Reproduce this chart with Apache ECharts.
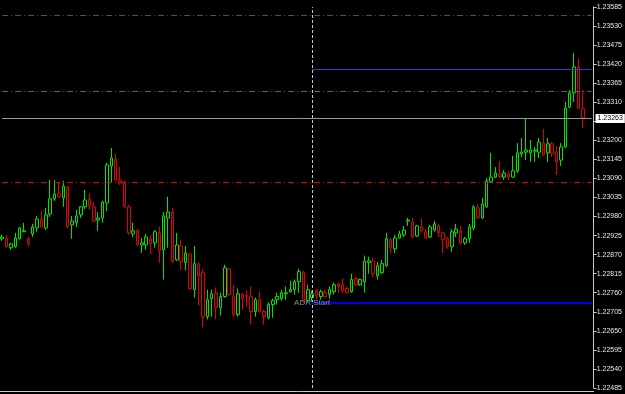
<!DOCTYPE html>
<html>
<head>
<meta charset="utf-8">
<script src="https://cdn.jsdelivr.net/npm/echarts@6/dist/echarts.min.js"></script>
<style>
html, body { margin: 0; padding: 0; background: #000; }
#chart { width: 625px; height: 394px; }
</style>
</head>
<body>
<div id="chart"></div>
<script>
// bars: [open, close, low, high]
var candles = [
  [1.22916, 1.22921, 1.22910, 1.22927], [1.22918, 1.22893, 1.22890, 1.22927], [1.22890, 1.22901, 1.22884, 1.22904],
  [1.22893, 1.22918, 1.22890, 1.22933], [1.22916, 1.22947, 1.22913, 1.22950], [1.22936, 1.22939, 1.22936, 1.22962],
  [1.22916, 1.22901, 1.22893, 1.22921], [1.22930, 1.22950, 1.22921, 1.22959], [1.22947, 1.22973, 1.22936, 1.22982],
  [1.22973, 1.22950, 1.22947, 1.22996], [1.22947, 1.22985, 1.22941, 1.23005], [1.22987, 1.23031, 1.22979, 1.23086],
  [1.23031, 1.23045, 1.23025, 1.23086], [1.23048, 1.23037, 1.23034, 1.23077], [1.23034, 1.23068, 1.23008, 1.23083],
  [1.23065, 1.22950, 1.22947, 1.23068], [1.22956, 1.22967, 1.22916, 1.22982], [1.22962, 1.22982, 1.22950, 1.22999],
  [1.22985, 1.23008, 1.22976, 1.23010], [1.23008, 1.23028, 1.23002, 1.23057], [1.23031, 1.23010, 1.22999, 1.23048],
  [1.23008, 1.22967, 1.22964, 1.23022], [1.22970, 1.22976, 1.22939, 1.22993], [1.22976, 1.23022, 1.22962, 1.23025],
  [1.23019, 1.23129, 1.22996, 1.23135], [1.23126, 1.23149, 1.23077, 1.23178], [1.23146, 1.23086, 1.23083, 1.23161],
  [1.23086, 1.23077, 1.23071, 1.23123], [1.23080, 1.23008, 1.23005, 1.23083], [1.23008, 1.22933, 1.22927, 1.23013],
  [1.22930, 1.22939, 1.22921, 1.22962], [1.22941, 1.22898, 1.22895, 1.22944], [1.22898, 1.22904, 1.22875, 1.22918],
  [1.22898, 1.22921, 1.22884, 1.22930], [1.22916, 1.22901, 1.22872, 1.22927], [1.22904, 1.22936, 1.22890, 1.22941],
  [1.22933, 1.22881, 1.22847, 1.22950], [1.22884, 1.22982, 1.22798, 1.22993], [1.22976, 1.22993, 1.22890, 1.23037],
  [1.22993, 1.22849, 1.22847, 1.23005], [1.22855, 1.22898, 1.22852, 1.22933], [1.22895, 1.22849, 1.22826, 1.22913],
  [1.22847, 1.22875, 1.22824, 1.22895], [1.22872, 1.22772, 1.22769, 1.22875], [1.22769, 1.22844, 1.22746, 1.22895],
  [1.22841, 1.22809, 1.22723, 1.22849], [1.22818, 1.22691, 1.22660, 1.22829], [1.22691, 1.22740, 1.22683, 1.22769],
  [1.22743, 1.22757, 1.22691, 1.22769], [1.22760, 1.22717, 1.22683, 1.22775], [1.22717, 1.22749, 1.22694, 1.22760],
  [1.22749, 1.22832, 1.22746, 1.22841], [1.22829, 1.22755, 1.22752, 1.22832], [1.22749, 1.22697, 1.22691, 1.22783],
  [1.22697, 1.22757, 1.22691, 1.22772], [1.22755, 1.22743, 1.22711, 1.22760], [1.22752, 1.22749, 1.22720, 1.22766],
  [1.22749, 1.22706, 1.22668, 1.22778], [1.22706, 1.22740, 1.22691, 1.22746], [1.22740, 1.22706, 1.22703, 1.22763],
  [1.22706, 1.22691, 1.22668, 1.22711], [1.22688, 1.22726, 1.22683, 1.22732], [1.22726, 1.22737, 1.22688, 1.22743],
  [1.22740, 1.22749, 1.22726, 1.22760], [1.22743, 1.22760, 1.22737, 1.22769], [1.22757, 1.22760, 1.22740, 1.22778],
  [1.22763, 1.22769, 1.22760, 1.22795], [1.22769, 1.22792, 1.22755, 1.22798], [1.22792, 1.22821, 1.22760, 1.22829],
  [1.22818, 1.22734, 1.22732, 1.22824], [1.22737, 1.22769, 1.22734, 1.22783], [1.22746, 1.22757, 1.22734, 1.22766],
  [1.22766, 1.22752, 1.22740, 1.22772], [1.22749, 1.22763, 1.22740, 1.22769], [1.22760, 1.22749, 1.22746, 1.22769],
  [1.22755, 1.22769, 1.22743, 1.22778], [1.22763, 1.22783, 1.22755, 1.22789], [1.22786, 1.22778, 1.22760, 1.22789],
  [1.22783, 1.22766, 1.22760, 1.22801], [1.22772, 1.22760, 1.22757, 1.22778], [1.22763, 1.22798, 1.22760, 1.22815],
  [1.22801, 1.22783, 1.22780, 1.22806], [1.22783, 1.22798, 1.22780, 1.22801], [1.22792, 1.22852, 1.22760, 1.22867],
  [1.22847, 1.22852, 1.22815, 1.22864], [1.22852, 1.22815, 1.22806, 1.22861], [1.22809, 1.22838, 1.22798, 1.22849],
  [1.22818, 1.22844, 1.22815, 1.22855], [1.22838, 1.22916, 1.22835, 1.22933], [1.22913, 1.22890, 1.22875, 1.22918],
  [1.22887, 1.22918, 1.22875, 1.22927], [1.22918, 1.22930, 1.22916, 1.22939], [1.22927, 1.22941, 1.22921, 1.22953],
  [1.22967, 1.22970, 1.22953, 1.22976], [1.22964, 1.22921, 1.22918, 1.22976], [1.22924, 1.22953, 1.22921, 1.22956],
  [1.22950, 1.22939, 1.22933, 1.22973], [1.22936, 1.22918, 1.22916, 1.22944], [1.22921, 1.22950, 1.22918, 1.22956],
  [1.22941, 1.22959, 1.22936, 1.22967], [1.22953, 1.22933, 1.22921, 1.22959], [1.22933, 1.22913, 1.22875, 1.22936],
  [1.22916, 1.22893, 1.22887, 1.22921], [1.22893, 1.22936, 1.22878, 1.22944], [1.22933, 1.22944, 1.22921, 1.22959],
  [1.22939, 1.22904, 1.22898, 1.22953], [1.22904, 1.22916, 1.22898, 1.22921], [1.22916, 1.22950, 1.22904, 1.22959],
  [1.22947, 1.23008, 1.22941, 1.23013], [1.23005, 1.22976, 1.22973, 1.23016], [1.22976, 1.23016, 1.22973, 1.23034],
  [1.23008, 1.23083, 1.23005, 1.23091], [1.23080, 1.23094, 1.23077, 1.23164], [1.23094, 1.23106, 1.23091, 1.23123],
  [1.23103, 1.23094, 1.23091, 1.23140], [1.23094, 1.23106, 1.23086, 1.23114], [1.23103, 1.23094, 1.23086, 1.23112],
  [1.23094, 1.23112, 1.23091, 1.23155], [1.23112, 1.23164, 1.23106, 1.23192], [1.23161, 1.23166, 1.23152, 1.23207],
  [1.23166, 1.23172, 1.23143, 1.23262], [1.23164, 1.23172, 1.23138, 1.23201], [1.23169, 1.23172, 1.23138, 1.23181],
  [1.23166, 1.23195, 1.23149, 1.23207], [1.23192, 1.23158, 1.23155, 1.23233], [1.23164, 1.23190, 1.23138, 1.23207],
  [1.23190, 1.23161, 1.23152, 1.23195], [1.23166, 1.23138, 1.23100, 1.23184], [1.23143, 1.23181, 1.23126, 1.23192],
  [1.23181, 1.23293, 1.23178, 1.23311], [1.23296, 1.23337, 1.23293, 1.23345], [1.23337, 1.23412, 1.23311, 1.23452],
  [1.23412, 1.23293, 1.23291, 1.23435], [1.23291, 1.23265, 1.23236, 1.23345]
];

// price scale
var yMin = 1.22485;
var yMax = 1.23585;
var yStep = 0.00055;

// horizontal levels
var levelTop = 1.23562;
var levelGreen = 1.23342;
var levelRed = 1.23080;
var lastPrice = 1.23263;
var adrHigh = 1.23406;
var adrLow = 1.22730;
var adrStartBar = 71;

// two empty slots on the right (chart shift)
var categories = [];
for (var i = 0; i < candles.length + 2; i++) categories.push(String(i));
var lastBar = categories.length - 1;

var dashDot = [6, 3, 1, 3];

// horizontal line from bar `start` to the last slot
function level(v, start, style, label) {
  var from = { coord: [start, v], lineStyle: style };
  if (label) from.label = label;
  return [from, { coord: [lastBar, v] }];
}

var chart = echarts.init(document.getElementById('chart'));
chart.setOption({
  backgroundColor: '#000',
  animation: false,
  grid: {
    left: -3,
    right: 28,
    top: 7,
    bottom: 6
  },
  xAxis: {
    type: 'category',
    data: categories,
    boundaryGap: true,
    offset: 3,
    axisLine: { lineStyle: { color: '#c8c8c8', width: 1 } },
    axisTick: {
      alignWithLabel: true,
      length: 3,
      interval: function (idx) { return idx % 8 === 2; },
      lineStyle: { color: '#c8c8c8' }
    },
    axisLabel: { show: false },
    splitLine: { show: false }
  },
  yAxis: {
    type: 'value',
    position: 'right',
    min: yMin,
    max: yMax,
    interval: yStep,
    axisLine: { show: true, lineStyle: { color: '#c8c8c8', width: 1 } },
    axisTick: { show: true, length: 3, lineStyle: { color: '#c8c8c8' } },
    axisLabel: {
      color: '#e8e8e8',
      fontSize: 7,
      fontFamily: 'Liberation Sans',
      margin: 3,
      formatter: function (v) { return v.toFixed(5); }
    },
    splitLine: { show: false }
  },
  series: [
    {
      // price levels and ADR markers
      type: 'line',
      data: [],
      silent: true,
      z: 1,
      markLine: {
        silent: true,
        symbol: ['none', 'none'],
        label: { show: false },
        data: [
          level(levelTop, 0, { color: '#6e4848', width: 1, type: dashDot }),
          level(levelGreen, 0, { color: '#3c7a3c', width: 1, type: dashDot }),
          level(levelRed, 0, { color: '#e00000', width: 1, type: dashDot }),
          { xAxis: adrStartBar, lineStyle: { color: '#c8c8c8', width: 1, type: [3, 2] } },
          level(adrHigh, adrStartBar, { color: '#3a3ac8', width: 1, type: 'solid' }),
          level(adrLow, adrStartBar, { color: '#0000e8', width: 2, type: 'solid' }),
          level(lastPrice, 0, { color: '#9a9a9a', width: 1, type: 'solid' }, {
            show: true,
            position: 'end',
            distance: 4,
            formatter: lastPrice.toFixed(5),
            backgroundColor: '#fff',
            color: '#000',
            fontSize: 7,
            fontFamily: 'Liberation Sans',
            padding: [1, 2]
          })
        ]
      },
      markPoint: {
        silent: true,
        symbol: 'circle',
        symbolSize: 1,
        itemStyle: { color: 'rgba(0,0,0,0)' },
        label: {
          show: true,
          position: 'inside',
          formatter: 'ADR Start',
          color: '#7f8f8f',
          fontSize: 8,
          fontFamily: 'Liberation Sans'
        },
        data: [{ coord: [adrStartBar, adrLow] }]
      }
    },
    {
      type: 'candlestick',
      data: candles,
      barWidth: 3,
      z: 3,
      itemStyle: {
        color: '#000',
        color0: '#000',
        borderColor: '#00e400',
        borderColor0: '#e00000',
        borderWidth: 1
      }
    }
  ]
});
</script>
</body>
</html>
